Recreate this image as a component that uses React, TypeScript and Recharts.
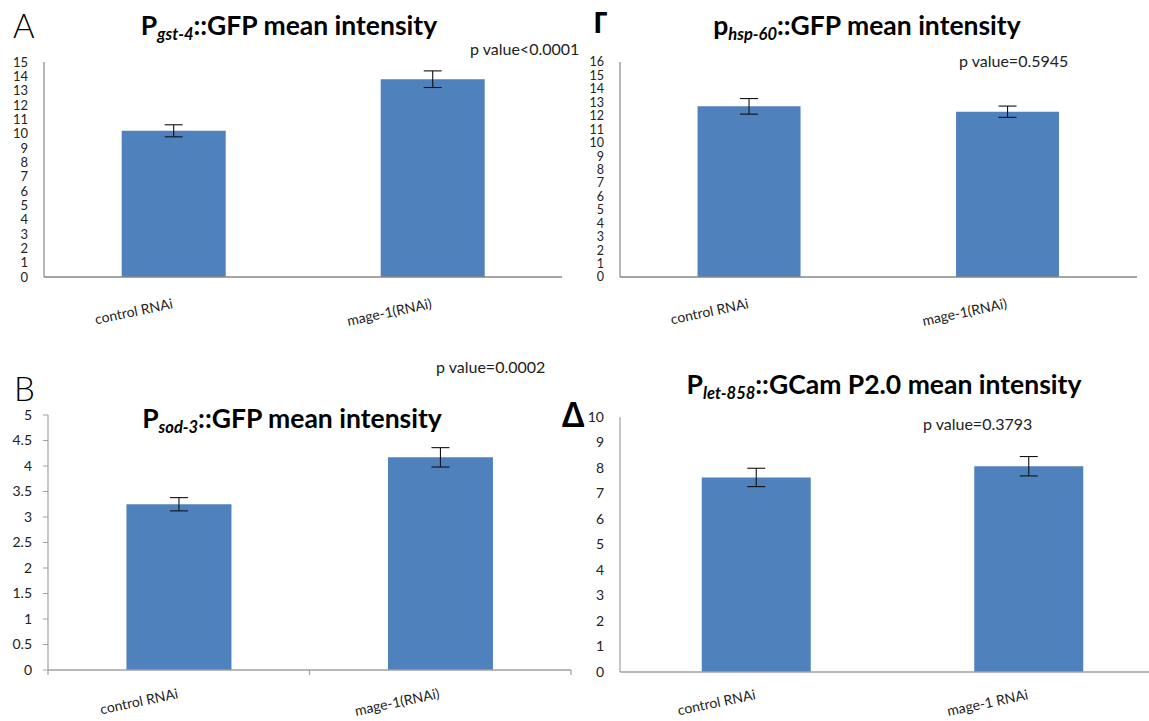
import React from 'react';
import { BarChart, Bar, XAxis, YAxis, ErrorBar } from 'recharts';

// ---------- data ----------
const categoriesA = ['control RNAi', 'mage-1(RNAi)'];
const valuesA = [10.2, 13.8];
const errorsA = [0.42, 0.58];
const ticksA = [0, 1, 2, 3, 4, 5, 6, 7, 8, 9, 10, 11, 12, 13, 14, 15];

const categoriesG = ['control RNAi', 'mage-1(RNAi)'];
const valuesG = [12.7, 12.3];
const errorsG = [0.58, 0.42];
const ticksG = [0, 1, 2, 3, 4, 5, 6, 7, 8, 9, 10, 11, 12, 13, 14, 15, 16];

const categoriesB = ['control RNAi', 'mage-1(RNAi)'];
const valuesB = [3.25, 4.17];
const errorsB = [0.13, 0.19];
const ticksB = [0, 0.5, 1, 1.5, 2, 2.5, 3, 3.5, 4, 4.5, 5];

const categoriesD = ['control RNAi', 'mage-1 RNAi'];
const valuesD = [7.63, 8.07];
const errorsD = [0.36, 0.38];
const ticksD = [0, 1, 2, 3, 4, 5, 6, 7, 8, 9, 10];

// ---------- style ----------
const FONT = 'Lato, "Open Sans", sans-serif';
const GREEK = '"Noto Sans", "DejaVu Sans", sans-serif';
const BAR = '#4F81BD';

type Geo = { x0: number; y0: number; left: number; right: number; top: number; bottom: number; chartW: number; below: number };

const makeTick = (marks: boolean, color: string, count: number, drop: number) => (props: any) => {
  const { x, y, payload, index } = props;
  const ty = y + drop;
  const off = payload && typeof payload.offset === 'number' ? payload.offset : 0;
  return (
    <g>
      {marks && <line x1={x - off} x2={x - off} y1={y} y2={y + 5} stroke={color} strokeWidth={1.2} />}
      {marks && index === count - 1 && (
        <line x1={x + off} x2={x + off} y1={y} y2={y + 5} stroke={color} strokeWidth={1.2} />
      )}
      <text
        x={x}
        y={ty}
        textAnchor="end"
        transform={`rotate(-12, ${x}, ${ty})`}
        fontSize={14}
        fontFamily={FONT}
        fill="#222"
      >
        {payload.value}
      </text>
    </g>
  );
};

function Panel(props: {
  cats: string[];
  vals: number[];
  errs: number[];
  ticks: number[];
  geo: Geo;
  axisColor: string;
  fontSize: number;
  drop: number;
  yTickLine?: boolean;
  xTickMarks?: boolean;
}) {
  const { cats, vals, errs, ticks, geo, axisColor, yTickLine, xTickMarks, fontSize, drop } = props;
  const data = cats.map((c, i) => ({ name: c, value: vals[i], err: errs[i] }));
  const width = geo.chartW;
  const height = geo.bottom - geo.y0 + geo.below;
  const max = ticks[ticks.length - 1];
  const TickComp = makeTick(!!xTickMarks, axisColor, cats.length, drop);
  return (
    <div style={{ position: 'absolute', left: geo.x0, top: geo.y0 }}>
      <BarChart
        width={width}
        height={height}
        data={data}
        margin={{ top: geo.top - geo.y0, right: width - (geo.right - geo.x0), bottom: 0, left: 0 }}
        barCategoryGap="30%"
      >
        <XAxis
          dataKey="name"
          type="category"
          interval={0}
          axisLine={{ stroke: axisColor, strokeWidth: 1.5 }}
          tickLine={false}
          tickSize={0}
          tickMargin={0}
          tick={<TickComp />}
          height={geo.below}
        />
        <YAxis
          type="number"
          domain={[0, max]}
          ticks={ticks}
          interval={0}
          width={geo.left - geo.x0}
          axisLine={{ stroke: axisColor, strokeWidth: 1.2 }}
          tickLine={yTickLine ? { stroke: axisColor } : false}
          tickSize={yTickLine ? 5 : 6}
          tickMargin={yTickLine ? 11 : 10}
          tick={{ fill: '#222', fontSize, fontFamily: FONT }}
        />
        <Bar dataKey="value" fill={BAR} isAnimationActive={false}>
          <ErrorBar dataKey="err" width={9} stroke="#111" strokeWidth={1.1} direction="y" />
        </Bar>
      </BarChart>
    </div>
  );
}

const geoA: Geo = { x0: 0, y0: 0, left: 44, right: 562, top: 62, bottom: 277, chartW: 575, below: 62 };
const geoG: Geo = { x0: 580, y0: 0, left: 620, right: 1137, top: 62, bottom: 277, chartW: 569, below: 62 };
const geoB: Geo = { x0: 0, y0: 350, left: 48, right: 571, top: 415, bottom: 670, chartW: 578, below: 51 };
const geoD: Geo = { x0: 580, y0: 350, left: 620, right: 1165, top: 417, bottom: 672, chartW: 600, below: 49 };

const Title = (p: { cx: number; y: number; pre: string; sub: string; post: string }) => (
  <text x={p.cx} y={p.y} textAnchor="middle" fontFamily={FONT} fontWeight={700} fontSize={26.5} fill="#000">
    {p.pre}
    <tspan fontSize={16.5} fontStyle="italic" dy={5}>{p.sub}</tspan>
    <tspan dy={-5}>{p.post}</tspan>
  </text>
);

const PText = (p: { x: number; y: number; t: string }) => (
  <text x={p.x} y={p.y} fontFamily={FONT} fontSize={16} fill="#222">{p.t}</text>
);

export default function App() {
  return (
    <div
      style={{
        position: 'absolute',
        left: 0,
        top: 0,
        width: 1149,
        height: 721,
        overflow: 'hidden',
        background: '#fff',
      }}
    >
      <Panel cats={categoriesA} vals={valuesA} errs={errorsA} ticks={ticksA} geo={geoA} axisColor="#868686" fontSize={13} drop={31} />
      <Panel cats={categoriesG} vals={valuesG} errs={errorsG} ticks={ticksG} geo={geoG} axisColor="#868686" fontSize={12.5} drop={31} />
      <Panel cats={categoriesB} vals={valuesB} errs={errorsB} ticks={ticksB} geo={geoB} axisColor="#a0a0a0" fontSize={14} drop={28} yTickLine xTickMarks />
      <Panel cats={categoriesD} vals={valuesD} errs={errorsD} ticks={ticksD} geo={geoD} axisColor="#a0a0a0" fontSize={14} drop={27} />
      <svg width={1149} height={721} style={{ position: 'absolute', left: 0, top: 0, pointerEvents: 'none' }}>
        <text x={13} y={38} fontFamily={FONT} fontWeight={300} fontSize={33} fill="#000">A</text>
        <text x={593} y={33} fontFamily={GREEK} fontWeight={700} fontSize={29} fill="#000">Γ</text>
        <text x={14} y={401} fontFamily={FONT} fontWeight={300} fontSize={33} fill="#000">B</text>
        <text x={562} y={427} fontFamily={GREEK} fontWeight={600} fontSize={34} fill="#000">Δ</text>

        <Title cx={289} y={35} pre="P" sub="gst-4" post="::GFP mean intensity" />
        <Title cx={867} y={35} pre="p" sub="hsp-60" post="::GFP mean intensity" />
        <Title cx={292} y={428} pre="P" sub="sod-3" post="::GFP mean intensity" />
        <Title cx={884} y={394} pre="P" sub="let-858" post="::GCam P2.0 mean intensity" />

        <PText x={470} y={55} t="p value<0.0001" />
        <PText x={959} y={67} t="p value=0.5945" />
        <PText x={436} y={373} t="p value=0.0002" />
        <PText x={923} y={430} t="p value=0.3793" />
      </svg>
    </div>
  );
}
